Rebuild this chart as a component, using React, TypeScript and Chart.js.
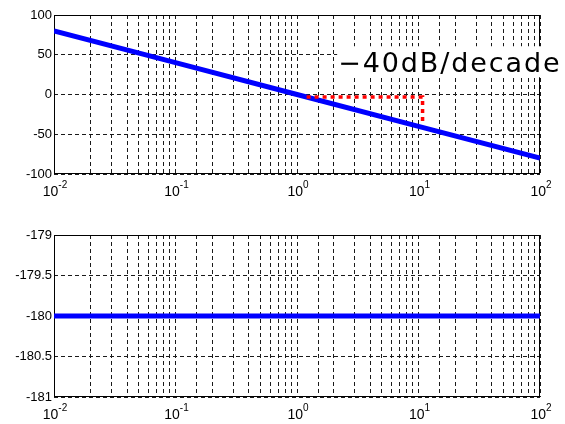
import React, { useEffect, useRef } from 'react';
import { Chart, registerables } from 'chart.js';

Chart.register(...registerables);

// ---- data ----
const freq = [0.01, 0.1, 1, 10, 100];
const magnitudeDb = [80, 40, 0, -40, -80];
const phaseDeg = [-180, -180, -180, -180, -180];
const slopeGuideX = [1.2, 10.8, 10.8];
const slopeGuideY = [-3, -3, -38];
const slopeLabel = '\u221240dB/decade';
const magRange = [-100, 100];
const magStep = 50;
const phaseRange = [-181, -179];
const phaseStep = 0.5;
const freqRange = [0.01, 100];

const decadeExp = (v: number): number | null => {
  const l = Math.log10(v);
  const r = Math.round(l);
  if (Math.abs(l - r) > 1e-6) return null;
  return r;
};

const FAMILY = '"Liberation Sans", Arial, sans-serif';
const FONT = { family: FAMILY, size: 13 };
const GRID_COLOR = '#1a1a1a';
const GRID_DASH = [4, 3];

const boxPlugin = {
  id: 'boxPlugin',
  beforeDatasetsDraw(chart: any) {
    const { ctx, chartArea: a } = chart;
    ctx.save();
    ctx.strokeStyle = '#000';
    ctx.lineWidth = 1;
    ctx.setLineDash([]);
    ctx.strokeRect(a.left + 0.5, a.top + 0.5, a.right - a.left - 1, a.bottom - a.top - 1);
    ctx.restore();
  },
};

// Power-of-ten tick labels "10" with a raised exponent, placed from the x scale's own ticks
const decadeLabelPlugin = {
  id: 'decadeLabelPlugin',
  afterDraw(chart: any) {
    const { ctx, chartArea: a } = chart;
    const xs = chart.scales.x;
    ctx.save();
    ctx.fillStyle = '#000';
    ctx.textBaseline = 'alphabetic';
    ctx.textAlign = 'left';
    const base = a.bottom + 22;
    xs.ticks.forEach((t: any) => {
      const e = decadeExp(t.value);
      if (e === null) return;
      const px = xs.getPixelForValue(t.value);
      ctx.font = `14px ${FAMILY}`;
      const wMain = ctx.measureText('10').width;
      ctx.font = `10px ${FAMILY}`;
      const expStr = String(e).replace('-', '-');
      const wExp = ctx.measureText(expStr).width;
      const total = wMain + wExp;
      const x0 = px - total / 2 + 1;
      ctx.font = `14px ${FAMILY}`;
      ctx.fillText('10', x0, base);
      ctx.font = `10px ${FAMILY}`;
      ctx.fillText(expStr, x0 + wMain, base - 8);
    });
    ctx.restore();
  },
};

const slopeLabelPlugin = {
  id: 'slopeLabelPlugin',
  afterDraw(chart: any) {
    const { ctx } = chart;
    const xs = chart.scales.x;
    const ys = chart.scales.y;
    const x0 = xs.getPixelForValue(2.1);
    const yBase = ys.getPixelForValue(28);
    ctx.save();
    ctx.fillStyle = '#fff';
    ctx.fillRect(x0 + 1, yBase - 26, 240, 31);
    ctx.font = '27px "DejaVu Sans", sans-serif';
    try { (ctx as any).letterSpacing = '1.9px'; } catch (e) {}
    ctx.fillStyle = '#000';
    ctx.textBaseline = 'alphabetic';
    ctx.textAlign = 'left';
    ctx.fillText(slopeLabel, x0 + 2, yBase);
    ctx.restore();
  },
};

function makeOptions(yMin: number, yMax: number, step: number, padTop: number, xHeight: number, fmt: (v: number) => string) {
  return {
    responsive: false,
    animation: false as const,
    events: [],
    layout: { padding: { left: 0, right: 25, top: padTop, bottom: 0 } },
    plugins: { legend: { display: false }, tooltip: { enabled: false } },
    scales: {
      x: {
        type: 'logarithmic' as const,
        min: freqRange[0],
        max: freqRange[1],
        border: { display: false, dash: GRID_DASH },
        grid: { color: GRID_COLOR, lineWidth: 1, drawTicks: false },
        ticks: {
          display: false,
          autoSkip: false,
          callback: (v: any) => (decadeExp(Number(v)) === null ? '' : '10^' + decadeExp(Number(v))),
        },
        afterFit: (s: any) => { s.height = xHeight; },
      },
      y: {
        min: yMin,
        max: yMax,
        border: { display: false, dash: GRID_DASH },
        grid: { color: GRID_COLOR, lineWidth: 1, drawTicks: false },
        ticks: {
          stepSize: step,
          padding: 2,
          color: '#000',
          font: FONT,
          callback: (v: any) => fmt(Number(v)),
        },
        afterFit: (s: any) => { s.width = 54; },
      },
    },
  };
}

export default function App() {
  const topRef = useRef<HTMLCanvasElement>(null);
  const botRef = useRef<HTMLCanvasElement>(null);

  useEffect(() => {
    const magData = freq.map((f, i) => ({ x: f, y: magnitudeDb[i] }));
    const guideData = slopeGuideX.map((f, i) => ({ x: f, y: slopeGuideY[i] }));
    const phaseData = freq.map((f, i) => ({ x: f, y: phaseDeg[i] }));

    const top = new Chart(topRef.current!, {
      type: 'line',
      data: {
        datasets: [
          {
            data: guideData,
            borderColor: '#ff0000',
            borderWidth: 3.5,
            borderDash: [4, 4],
            pointRadius: 0,
            fill: false,
          },
          {
            data: magData,
            borderColor: '#0000ff',
            borderWidth: 5,
            pointRadius: 0,
            fill: false,
          },
        ],
      },
      options: makeOptions(magRange[0], magRange[1], magStep, 15, 38, (v) => String(v)) as any,
      plugins: [boxPlugin, decadeLabelPlugin, slopeLabelPlugin],
    });

    const bot = new Chart(botRef.current!, {
      type: 'line',
      data: {
        datasets: [
          {
            data: phaseData,
            borderColor: '#0000ff',
            borderWidth: 5,
            pointRadius: 0,
            fill: false,
          },
        ],
      },
      options: makeOptions(phaseRange[0], phaseRange[1], phaseStep, 23, 27, (v) => String(Math.round(v * 10) / 10)) as any,
      plugins: [boxPlugin, decadeLabelPlugin],
    });

    return () => {
      top.destroy();
      bot.destroy();
    };
  }, []);

  return (
    <div style={{ position: 'fixed', left: 0, top: 0, width: 565, height: 424, background: '#fff' }}>
      <canvas ref={topRef} width={565} height={212} style={{ position: 'absolute', left: 0, top: 0, width: 565, height: 212 }} />
      <canvas ref={botRef} width={565} height={212} style={{ position: 'absolute', left: 0, top: 212, width: 565, height: 212 }} />
    </div>
  );
}
